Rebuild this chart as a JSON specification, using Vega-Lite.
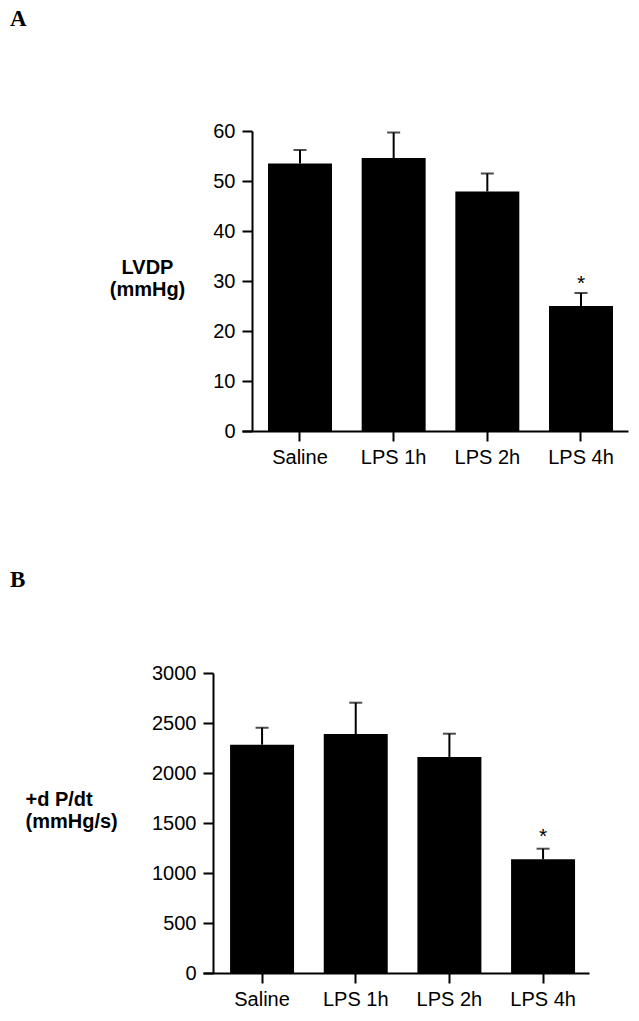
{
  "$schema": "https://vega.github.io/schema/vega-lite/v6.json",
  "padding": {"left": 10, "top": 8, "right": 5, "bottom": 5},
  "background": "white",
  "columns": 1,
  "spacing": 102,
  "config": {
    "view": {"stroke": null},
    "font": "Liberation Sans",
    "axis": {
      "domainColor": "black", "domainWidth": 2, "tickColor": "black", "tickWidth": 2, "tickSize": 10,
      "labelFont": "Liberation Sans", "labelFontSize": 20, "labelColor": "black", "grid": false
    }
  },
  "concat": [
    {
      "title": {"text": "A", "anchor": "start", "frame": "group", "font": "Liberation Serif", "fontWeight": "bold", "fontSize": 23, "color": "black", "dx": -193, "offset": 90},
      "width": 425, "height": 300,
      "data": {"values": [
        {"group": "Saline", "mean": 53.5, "upper": 56.2, "star": null},
        {"group": "LPS 1h", "mean": 54.6, "upper": 59.7, "star": null},
        {"group": "LPS 2h", "mean": 47.9, "upper": 51.5, "star": null},
        {"group": "LPS 4h", "mean": 25.0, "upper": 27.6, "star": 29.4}
      ]},
      "encoding": {
        "x": {"field": "group", "type": "nominal", "sort": null,
          "scale": {"range": [39, 425], "paddingInner": 0.317, "paddingOuter": 0.219, "align": 0.634},
          "axis": {"title": null, "labelAngle": 0, "labelPadding": 6}}
      },
      "layer": [
        {"mark": {"type": "bar", "color": "black"},
         "encoding": {"y": {"field": "mean", "type": "quantitative",
           "scale": {"domain": [0, 60], "nice": false},
           "axis": {"values": [0, 10, 20, 30, 40, 50, 60], "offset": -49, "labelPadding": 7,
             "title": ["LVDP", "(mmHg)"], "titleAngle": 0, "titleFont": "Liberation Sans", "titleFontWeight": "bold", "titleFontSize": 20, "titleColor": "black",
             "titleAlign": "center", "titleBaseline": "top", "titleLineHeight": 22, "titleX": -105, "titleY": 126}}}},
        {"mark": {"type": "rule", "color": "black", "strokeWidth": 2},
         "encoding": {"y": {"field": "mean", "type": "quantitative"}, "y2": {"field": "upper"}}},
        {"mark": {"type": "tick", "color": "black", "thickness": 2, "size": 13},
         "encoding": {"y": {"field": "upper", "type": "quantitative"}}},
        {"transform": [{"filter": "datum.star != null"}],
         "mark": {"type": "text", "text": "*", "fontSize": 21, "color": "black", "baseline": "middle", "font": "Liberation Sans"},
         "encoding": {"y": {"field": "star", "type": "quantitative"}}}
      ]
    },
    {
      "title": {"text": "B", "anchor": "start", "frame": "group", "font": "Liberation Serif", "fontWeight": "bold", "fontSize": 23, "color": "black", "dx": -193, "offset": 71},
      "width": 386, "height": 300,
      "data": {"values": [
        {"group": "Saline", "mean": 2283, "upper": 2453, "star": null},
        {"group": "LPS 1h", "mean": 2390, "upper": 2703, "star": null},
        {"group": "LPS 2h", "mean": 2160, "upper": 2393, "star": null},
        {"group": "LPS 4h", "mean": 1137, "upper": 1243, "star": 1365}
      ]},
      "encoding": {
        "x": {"field": "group", "type": "nominal", "sort": null,
          "scale": {"paddingInner": 0.317, "paddingOuter": 0.219, "align": 0.66},
          "axis": {"title": null, "labelAngle": 0, "labelPadding": 6}}
      },
      "layer": [
        {"mark": {"type": "bar", "color": "black"},
         "encoding": {"y": {"field": "mean", "type": "quantitative",
           "scale": {"domain": [0, 3000], "nice": false},
           "axis": {"values": [0, 500, 1000, 1500, 2000, 2500, 3000], "format": "d", "offset": -10, "labelPadding": 7,
             "title": ["+d P/dt", "(mmHg/s)"], "titleAngle": 0, "titleFont": "Liberation Sans", "titleFontWeight": "bold", "titleFontSize": 20, "titleColor": "black",
             "titleAlign": "left", "titleBaseline": "top", "titleLineHeight": 22, "titleX": -188, "titleY": 116}}}},
        {"mark": {"type": "rule", "color": "black", "strokeWidth": 2},
         "encoding": {"y": {"field": "mean", "type": "quantitative"}, "y2": {"field": "upper"}}},
        {"mark": {"type": "tick", "color": "black", "thickness": 2, "size": 13},
         "encoding": {"y": {"field": "upper", "type": "quantitative"}}},
        {"transform": [{"filter": "datum.star != null"}],
         "mark": {"type": "text", "text": "*", "fontSize": 21, "color": "black", "baseline": "middle", "font": "Liberation Sans"},
         "encoding": {"y": {"field": "star", "type": "quantitative"}}}
      ]
    }
  ]
}
